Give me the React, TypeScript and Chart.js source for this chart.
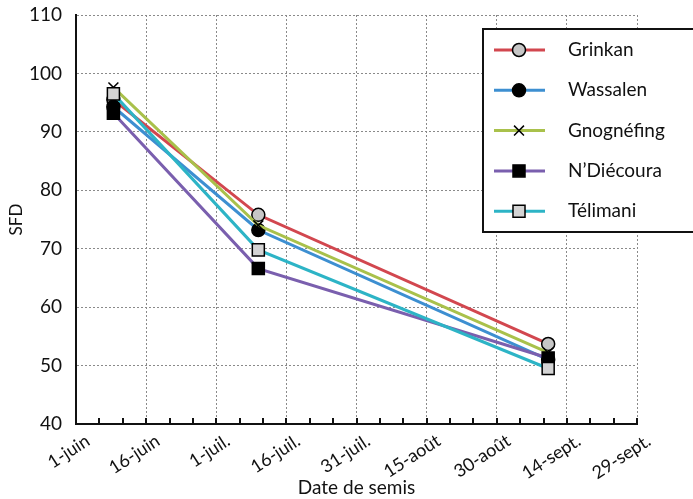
import React, { useEffect, useRef } from 'react';
import { Chart, registerables } from 'chart.js';
import { drawPoint } from 'chart.js/helpers';

Chart.register(...registerables);

// ---- Data ----
const tickLabels = ['1-juin', '16-juin', '1-juil.', '16-juil.', '31-juil.', '15-août', '30-août', '14-sept.', '29-sept.'];
const tickStepDays = 15; // days between labelled ticks (from 1-juin)
const minorStepDays = 5;
const sowingDays = [8, 39, 101]; // days after 1-juin
const seriesNames = ['Grinkan', 'Wassalen', 'Gnognéfing', "N’Diécoura", 'Télimani'];
const grinkan = [95.5, 75.8, 53.7];
const wassalen = [94.3, 73.2, 51.0];
const gnognefing = [97.6, 74.0, 52.2];
const ndiecoura = [93.2, 66.6, 51.3];
const telimani = [96.5, 69.8, 49.5];
const yMin = 40;
const yMax = 110;
const yStep = 10;

const FONT = 'Lato, "Gill Sans", "DejaVu Sans", sans-serif';

const seriesValues = [grinkan, wassalen, gnognefing, ndiecoura, telimani];
const lineColors = ['#d2474f', '#3d8fd1', '#a9c14b', '#7a5fae', '#2db4c6'];
const pointStyles = ['circle', 'circle', 'crossRot', 'rect', 'rect'];
const pointFills = ['#c6c6c6', '#000000', '#000000', '#000000', '#d4d4d4'];
const pointRadii = [6.5, 6.5, 7, 8.5, 8.5];

const minorTicksPlugin = {
  id: 'minorTicks',
  afterDraw(chart: any) {
    const xs = chart.scales.x;
    const ctx = chart.ctx;
    const y0 = chart.chartArea.bottom;
    ctx.save();
    ctx.strokeStyle = '#111';
    ctx.lineWidth = 2;
    ctx.beginPath();
    for (let d = xs.min; d <= xs.max + 0.001; d += minorStepDays) {
      const px = Math.round(xs.getPixelForValue(d));
      ctx.moveTo(px, y0);
      ctx.lineTo(px, y0 - 6);
    }
    ctx.stroke();
    ctx.restore();
  },
};

const boxLegendPlugin = {
  id: 'boxLegend',
  afterDraw(chart: any) {
    const ctx = chart.ctx;
    const left = 483;
    const top = 29;
    const width = 230;
    const height = 203;
    ctx.save();
    ctx.fillStyle = '#ffffff';
    ctx.fillRect(left, top, width, height);
    ctx.strokeStyle = '#111';
    ctx.lineWidth = 2;
    ctx.strokeRect(left, top, width, height);
    chart.data.datasets.forEach((ds: any, i: number) => {
      const y = top + 21 + i * 40.3;
      ctx.strokeStyle = ds.borderColor;
      ctx.lineWidth = 3;
      ctx.beginPath();
      ctx.moveTo(left + 11, y);
      ctx.lineTo(left + 62, y);
      ctx.stroke();
      ctx.fillStyle = ds.pointBackgroundColor;
      ctx.strokeStyle = '#000';
      ctx.lineWidth = ds.pointBorderWidth;
      drawPoint(ctx, { pointStyle: ds.pointStyle, radius: ds.pointRadius, borderWidth: ds.pointBorderWidth, rotation: 0 }, left + 36, y);
      ctx.fillStyle = '#111';
      ctx.font = '19px ' + FONT;
      ctx.textBaseline = 'middle';
      ctx.textAlign = 'left';
      ctx.fillText(ds.label, left + 85, y);
    });
    ctx.restore();
  },
};

export default function App() {
  const canvasRef = useRef<HTMLCanvasElement | null>(null);

  useEffect(() => {
    document.body.style.margin = '0';
    const canvas = canvasRef.current;
    if (!canvas) return;
    const datasets = seriesNames.map((name, i) => ({
      label: name,
      data: sowingDays.map((d, j) => ({ x: d, y: seriesValues[i][j] })),
      borderColor: lineColors[i],
      backgroundColor: lineColors[i],
      borderWidth: 3,
      pointStyle: pointStyles[i],
      pointRadius: pointRadii[i],
      pointBackgroundColor: pointFills[i],
      pointBorderColor: '#000000',
      pointBorderWidth: 1.5,
      tension: 0,
      order: 4 - i,
    }));
    const chart = new Chart(canvas, {
      type: 'line',
      data: { datasets },
      options: {
        animation: false,
        responsive: false,
        maintainAspectRatio: false,
        layout: { padding: { top: 15, right: 56, left: 0, bottom: 0 } },
        plugins: { legend: { display: false }, tooltip: { enabled: false } },
        scales: {
          x: {
            type: 'linear',
            min: 0,
            max: tickStepDays * (tickLabels.length - 1),
            afterFit(scale: any) { scale.height = 75; },
            afterBuildTicks(scale: any) {
              scale.ticks = tickLabels.map((_, i) => ({ value: i * tickStepDays }));
            },
            ticks: {
              stepSize: tickStepDays,
              minRotation: 33,
              maxRotation: 33,
              autoSkip: false,
              padding: 6,
              labelOffset: 12,
              color: '#111',
              font: { family: FONT, size: 18 },
              callback: (v: any) => tickLabels[Math.round(Number(v) / tickStepDays)] ?? '',
            },
            grid: { color: '#8a8a8a', lineWidth: 1, drawTicks: false },
            border: { color: '#111', width: 2, dash: [2, 2] },
            title: { display: true, text: 'Date de semis', color: '#111', font: { family: FONT, size: 19 }, padding: { top: 0, bottom: 0 } },
          },
          y: {
            min: yMin,
            max: yMax,
            afterFit(scale: any) {
              scale.width = 76;
              scale.paddingTop = 0;
              scale.paddingBottom = 0;
            },
            ticks: { stepSize: yStep, padding: 14, color: '#111', font: { family: FONT, size: 19 } },
            grid: { color: '#8a8a8a', lineWidth: 1, drawTicks: false },
            border: { color: '#111', width: 2, dash: [2, 2] },
            title: { display: true, text: 'SFD', color: '#111', font: { family: FONT, size: 17 }, padding: { top: 6, bottom: 0 } },
          },
        },
      },
      plugins: [minorTicksPlugin, boxLegendPlugin],
    } as any);
    return () => chart.destroy();
  }, []);

  return (
    <div style={{ position: 'absolute', left: 0, top: 0, width: 693, height: 499 }}>
      <canvas ref={canvasRef} width={693} height={499} />
    </div>
  );
}
